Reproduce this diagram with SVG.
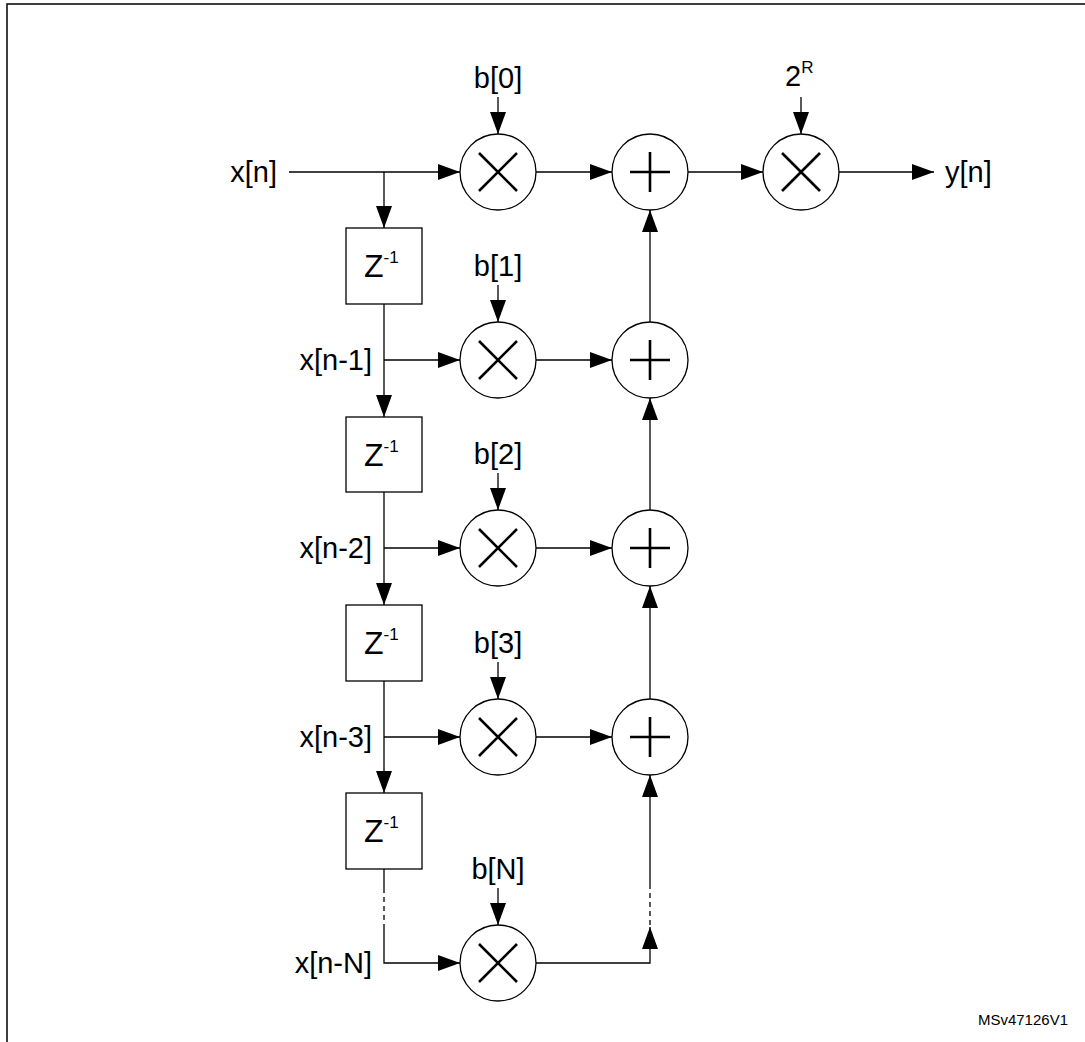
<svg xmlns="http://www.w3.org/2000/svg" width="1085" height="1042" viewBox="0 0 1085 1042">
<style>
.t{font-family:"Liberation Sans",Arial,sans-serif;font-size:29px;fill:#000}
.z{font-family:"Liberation Sans",Arial,sans-serif;font-size:32px;fill:#000}
.s{font-size:17px}
.m{font-family:"Liberation Sans",Arial,sans-serif;font-size:15px;fill:#000}
.ln{stroke:#000;stroke-width:1.3;fill:none}
.c{stroke:#000;stroke-width:1.3;fill:#fff}
.sym{stroke:#000;stroke-width:2.6;fill:none}
</style>
<defs>
<marker id="a" markerUnits="userSpaceOnUse" markerWidth="22" markerHeight="16" refX="22" refY="8" orient="auto"><path d="M0,0 L22,8 L0,16 Z" fill="#000"/></marker>
<g id="mul"><circle r="38" class="c"/><path class="sym" d="M-19,-19 L19,19 M19,-19 L-19,19"/></g>
<g id="add"><circle r="38" class="c"/><path class="sym" d="M-20,0 L20,0 M0,-20 L0,20"/></g>
</defs>
<rect x="7" y="4" width="1090" height="1050" fill="none" stroke="#000" stroke-width="1.5"/>
<g id="connectors">
<path class="ln" d="M289,172 L460,172" marker-end="url(#a)"/>
<path class="ln" d="M384,172 L384,228" marker-end="url(#a)"/>
<path class="ln" d="M536,172 L612,172" marker-end="url(#a)"/>
<path class="ln" d="M688,172 L763,172" marker-end="url(#a)"/>
<path class="ln" d="M839,172 L934,172" marker-end="url(#a)"/>
<path class="ln" d="M498,97 L498,134" marker-end="url(#a)"/>
<path class="ln" d="M801,97 L801,134" marker-end="url(#a)"/>
<path class="ln" d="M384,304 L384,417" marker-end="url(#a)"/>
<path class="ln" d="M384,360 L460,360" marker-end="url(#a)"/>
<path class="ln" d="M536,360 L612,360" marker-end="url(#a)"/>
<path class="ln" d="M498,285 L498,322" marker-end="url(#a)"/>
<path class="ln" d="M650,322 L650,210" marker-end="url(#a)"/>
<path class="ln" d="M384,492 L384,605" marker-end="url(#a)"/>
<path class="ln" d="M384,548 L460,548" marker-end="url(#a)"/>
<path class="ln" d="M536,548 L612,548" marker-end="url(#a)"/>
<path class="ln" d="M498,473 L498,510" marker-end="url(#a)"/>
<path class="ln" d="M650,510 L650,398" marker-end="url(#a)"/>
<path class="ln" d="M384,681 L384,793" marker-end="url(#a)"/>
<path class="ln" d="M384,737 L460,737" marker-end="url(#a)"/>
<path class="ln" d="M536,737 L612,737" marker-end="url(#a)"/>
<path class="ln" d="M498,662 L498,699" marker-end="url(#a)"/>
<path class="ln" d="M650,699 L650,586" marker-end="url(#a)"/>
<path class="ln" d="M384,869 L384,888"/>
<path class="ln" d="M384,888 L384,925" stroke-dasharray="5,4"/>
<path class="ln" d="M384,925 L384,963 L460,963" marker-end="url(#a)"/>
<path class="ln" d="M498,888 L498,925" marker-end="url(#a)"/>
<path class="ln" d="M536,963 L650,963 L650,927" marker-end="url(#a)"/>
<path class="ln" d="M650,925 L650,888" stroke-dasharray="5,4"/>
<path class="ln" d="M650,888 L650,775" marker-end="url(#a)"/>
</g>
<g id="labels">
<text class="t" x="277" y="182" text-anchor="end">x[n]</text>
<text class="t" x="945" y="182">y[n]</text>
<text class="t" x="372" y="370" text-anchor="end">x[n-1]</text>
<text class="t" x="372" y="558" text-anchor="end">x[n-2]</text>
<text class="t" x="372" y="747" text-anchor="end">x[n-3]</text>
<text class="t" x="372" y="973" text-anchor="end">x[n-N]</text>
<text class="t" x="498" y="88" text-anchor="middle">b[0]</text>
<text class="t" x="498" y="276" text-anchor="middle">b[1]</text>
<text class="t" x="498" y="464" text-anchor="middle">b[2]</text>
<text class="t" x="498" y="653" text-anchor="middle">b[3]</text>
<text class="t" x="498" y="879" text-anchor="middle">b[N]</text>
<text class="t" x="785" y="86">2<tspan class="s" dy="-13">R</tspan></text>
<text class="m" x="1068" y="1025" text-anchor="end">MSv47126V1</text>
</g>
<g id="mul0"><use href="#mul" x="498" y="172"/></g>
<g id="add0"><use href="#add" x="650" y="172"/></g>
<g id="mulR"><use href="#mul" x="801" y="172"/></g>
<g id="mul1"><use href="#mul" x="498" y="360"/></g>
<g id="add1"><use href="#add" x="650" y="360"/></g>
<g id="mul2"><use href="#mul" x="498" y="548"/></g>
<g id="add2"><use href="#add" x="650" y="548"/></g>
<g id="mul3"><use href="#mul" x="498" y="737"/></g>
<g id="add3"><use href="#add" x="650" y="737"/></g>
<g id="mulN"><use href="#mul" x="498" y="963"/></g>
<g id="z1"><rect class="c" x="346" y="228" width="76" height="76"/><text class="z" x="364" y="277">Z<tspan class="s" dy="-14">-1</tspan></text></g>
<g id="z2"><rect class="c" x="346" y="417" width="76" height="75"/><text class="z" x="364" y="466">Z<tspan class="s" dy="-14">-1</tspan></text></g>
<g id="z3"><rect class="c" x="346" y="605" width="76" height="76"/><text class="z" x="364" y="654">Z<tspan class="s" dy="-14">-1</tspan></text></g>
<g id="z4"><rect class="c" x="346" y="793" width="76" height="76"/><text class="z" x="364" y="842">Z<tspan class="s" dy="-14">-1</tspan></text></g>
</svg>
